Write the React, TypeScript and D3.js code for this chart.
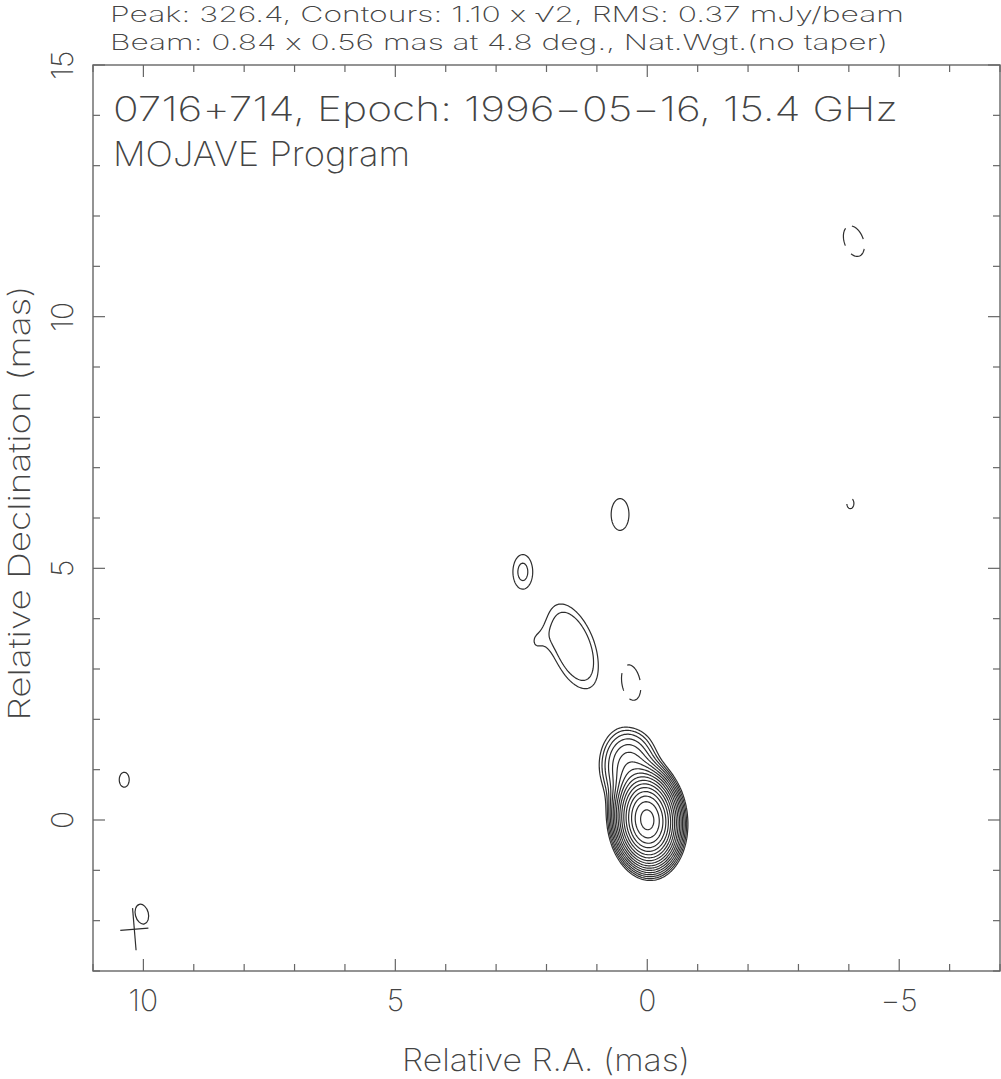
import React, { useMemo } from "react";
import * as d3 from "d3";

// ---- axis / frame data ----
const RA_DOMAIN = [11, -7];
const DEC_DOMAIN = [-3, 15];
const X_TICK_LABELS = [10, 5, 0, -5];
const Y_TICK_LABELS = [0, 5, 10, 15];

// ---- title texts ----
const HEADER_LINES = [
  "Peak: 326.4, Contours: 1.10 x \u221A2, RMS: 0.37 mJy/beam",
  "Beam: 0.84 x 0.56 mas at 4.8 deg., Nat.Wgt.(no taper)",
];
const PLOT_LABELS = ["0716+714, Epoch: 1996\u221205\u221216, 15.4 GHz", "MOJAVE Program"];
const X_TITLE = "Relative R.A. (mas)";
const Y_TITLE = "Relative Declination (mas)";

// ---- contour levels (mJy/beam) ----
const BASE_LEVEL = 1.1;
const PEAK = 326.4;
const LEVEL_STEPS = d3.range(0, 17); // 1.1 * sqrt(2)^n, n = 0..16

// ---- brightness components ----
const compRA = [0.0, 0.38, 0.15, 2.47, 0.54, 1.47, 2.2, 10.38, 0.32, -4.1, -4.03];
const compDec = [0.0, 1.1, 0.55, 4.93, 6.07, 3.45, 3.55, 0.8, 2.72, 11.5, 6.29];
const compPeak = [326.4, 7.0, 6.0, 1.75, 1.45, 2.0, 1.12, 1.2, -1.5, -1.45, -1.15];
const compMajor = [0.84, 0.95, 0.8, 0.84, 1.0, 1.3, 0.42, 0.84, 1.1, 1.0, 0.84];
const compMinor = [0.56, 0.7, 0.56, 0.48, 0.56, 0.62, 0.66, 0.56, 0.55, 0.6, 0.56];
const compPA = [4.8, 0, 10, 0, 0, 21, 90, 0, 10, 20, 0];
const compShape = [2, 2, 2, 2, 2, 4, 2, 2, 2, 2, 2]; // profile exponent (2 = Gaussian)

// ---- restoring beam marker ----
const BEAM_MAJOR = 0.84;
const BEAM_MINOR = 0.56;
const BEAM_PA = 4.8;
const BEAM_CROSS_CENTER = [10.18, -2.17];
const BEAM_ELLIPSE_CENTER = [10.03, -1.87];
const BEAM_ELLIPSE_AXES = [0.2, 0.13];

const W = 1001;
const H = 1079;
const FRAME = { left: 93, right: 1000, top: 65, bottom: 971 };

const FONT = "Inter, Lato, sans-serif";
const WEIGHT = 200;
const TEXT_COLOR = "#444";
const FRAME_COLOR = "#666";
const LINE_COLOR = "#2e2e2e";

export default function App() {
  const x = d3.scaleLinear().domain(RA_DOMAIN).range([FRAME.left, FRAME.right]);
  const y = d3.scaleLinear().domain(DEC_DOMAIN).range([FRAME.bottom, FRAME.top]);

  const { posPaths, negPaths } = useMemo(() => {
    const step = 0.025;
    const ra0 = RA_DOMAIN[0];
    const dec0 = DEC_DOMAIN[0];
    const n = Math.round((RA_DOMAIN[0] - RA_DOMAIN[1]) / step) + 1;
    const m = Math.round((DEC_DOMAIN[1] - DEC_DOMAIN[0]) / step) + 1;
    const values = new Float64Array(n * m);
    const k = 4 * Math.LN2;
    for (let c = 0; c < compRA.length; c++) {
      const pa = (compPA[c] * Math.PI) / 180;
      const cs = Math.cos(pa);
      const sn = Math.sin(pa);
      const maj = compMajor[c];
      const min = compMinor[c];
      const A = compPeak[c];
      const p = compShape[c] / 2;
      const reach = Math.max(maj, min) * 2.5;
      const i0 = Math.max(0, Math.floor((ra0 - (compRA[c] + reach)) / step));
      const i1 = Math.min(n - 1, Math.ceil((ra0 - (compRA[c] - reach)) / step));
      const j0 = Math.max(0, Math.floor((compDec[c] - reach - dec0) / step));
      const j1 = Math.min(m - 1, Math.ceil((compDec[c] + reach - dec0) / step));
      for (let j = j0; j <= j1; j++) {
        const dd = dec0 + j * step - compDec[c];
        for (let i = i0; i <= i1; i++) {
          const dr = ra0 - i * step - compRA[c];
          const u = dd * cs + dr * sn;
          const v = -dd * sn + dr * cs;
          const q = (u / maj) ** 2 + (v / min) ** 2;
          values[j * n + i] += A * Math.exp(-k * Math.pow(q, p));
        }
      }
    }
    const proj = d3.geoTransform({
      point(gx, gy) {
        this.stream.point(x(ra0 - (gx - 0.5) * step), y(dec0 + (gy - 0.5) * step));
      },
    });
    const path = d3.geoPath(proj);
    const levels = LEVEL_STEPS.map((s) => BASE_LEVEL * Math.pow(Math.SQRT2, s)).filter(
      (l) => l < PEAK
    );
    const pos = d3.contours().size([n, m]).thresholds(levels)(Array.from(values));
    const negVals = Array.from(values, (v) => -v);
    const neg = d3.contours().size([n, m]).thresholds([BASE_LEVEL])(negVals);
    return {
      posPaths: pos.map((g) => path(g as any) || ""),
      negPaths: neg.map((g) => path(g as any) || ""),
    };
  }, []);

  const majorTicks = d3.range(-10, 20, 5);
  const allTicks = d3.range(-10, 20, 1);
  const xTicks = allTicks.filter((t) => t <= RA_DOMAIN[0] && t >= RA_DOMAIN[1]);
  const yTicks = allTicks.filter((t) => t >= DEC_DOMAIN[0] && t <= DEC_DOMAIN[1]);
  const len = (t: number) => (majorTicks.includes(t) ? 12 : 7);

  const cross = BEAM_CROSS_CENTER;
  const cx = x(cross[0]);
  const cy = y(cross[1]);
  const pxPerMas = Math.abs(x(1) - x(0));
  const ell = BEAM_ELLIPSE_CENTER;

  const txt = {
    fontFamily: FONT,
    fontWeight: WEIGHT,
    fill: TEXT_COLOR,
    style: { fontFeatureSettings: "'calt' 0, 'liga' 0" },
  } as const;

  return (
    <div style={{ position: "absolute", left: 0, top: 0 }}>
      <svg width={W} height={H} style={{ display: "block", background: "#fff" }}>
        {HEADER_LINES.map((t, i) => (
          <text
            key={i}
            x={110}
            y={22 + i * 28}
            {...txt}
            fontSize={21}
            textLength={i === 0 ? 794 : 778}
            lengthAdjust="spacingAndGlyphs"
          >
            {t}
          </text>
        ))}

        <rect
          x={FRAME.left}
          y={FRAME.top}
          width={FRAME.right - FRAME.left}
          height={FRAME.bottom - FRAME.top}
          fill="none"
          stroke={FRAME_COLOR}
          strokeWidth={1.4}
        />
        {xTicks.map((t) => (
          <g key={"xt" + t} stroke={FRAME_COLOR} strokeWidth={1.2}>
            <line x1={x(t)} x2={x(t)} y1={FRAME.bottom} y2={FRAME.bottom - len(t)} />
            <line x1={x(t)} x2={x(t)} y1={FRAME.top} y2={FRAME.top + len(t)} />
          </g>
        ))}
        {yTicks.map((t) => (
          <g key={"yt" + t} stroke={FRAME_COLOR} strokeWidth={1.2}>
            <line x1={FRAME.left} x2={FRAME.left + len(t)} y1={y(t)} y2={y(t)} />
            <line x1={FRAME.right} x2={FRAME.right - len(t)} y1={y(t)} y2={y(t)} />
          </g>
        ))}

        {X_TICK_LABELS.map((t) => (
          <text key={"xl" + t} x={x(t)} y={1011} textAnchor="middle" {...txt} fontSize={30}>
            {t < 0 ? "\u2212" + Math.abs(t) : String(t)}
          </text>
        ))}
        {Y_TICK_LABELS.map((t) => (
          <text
            key={"yl" + t}
            transform={`translate(73,${y(t)}) rotate(-90)`}
            textAnchor="middle"
            {...txt}
            fontSize={30}
          >
            {String(t)}
          </text>
        ))}

        <text
          x={546}
          y={1071}
          textAnchor="middle"
          {...txt}
          fontSize={31}
          textLength={288}
          lengthAdjust="spacingAndGlyphs"
        >
          {X_TITLE}
        </text>
        <text
          transform={`translate(30,503) rotate(-90)`}
          textAnchor="middle"
          {...txt}
          fontSize={30}
          textLength={435}
          lengthAdjust="spacingAndGlyphs"
        >
          {Y_TITLE}
        </text>

        {PLOT_LABELS.map((t, i) => (
          <text
            key={"pl" + i}
            x={113}
            y={121 + i * 45}
            {...txt}
            fontSize={34}
            textLength={i === 0 ? 785 : 297}
            lengthAdjust="spacingAndGlyphs"
          >
            {t}
          </text>
        ))}

        <g fill="none" stroke={LINE_COLOR} strokeWidth={1.2} strokeLinejoin="round">
          {posPaths.map((d, i) => (
            <path key={"p" + i} d={d} />
          ))}
          {negPaths.map((d, i) => (
            <path key={"n" + i} d={d} strokeDasharray="18 10" />
          ))}
        </g>

        <g stroke={LINE_COLOR} strokeWidth={1.2} fill="none">
          <g transform={`translate(${cx},${cy}) rotate(${-BEAM_PA})`}>
            <line x1={0} x2={0} y1={(-BEAM_MAJOR / 2) * pxPerMas} y2={(BEAM_MAJOR / 2) * pxPerMas} />
            <line x1={(-BEAM_MINOR / 2) * pxPerMas} x2={(BEAM_MINOR / 2) * pxPerMas} y1={0} y2={0} />
          </g>
          <ellipse
            transform={`translate(${x(ell[0])},${y(ell[1])}) rotate(${-BEAM_PA * 3})`}
            rx={BEAM_ELLIPSE_AXES[1] * pxPerMas}
            ry={BEAM_ELLIPSE_AXES[0] * pxPerMas}
          />
        </g>
      </svg>
    </div>
  );
}
